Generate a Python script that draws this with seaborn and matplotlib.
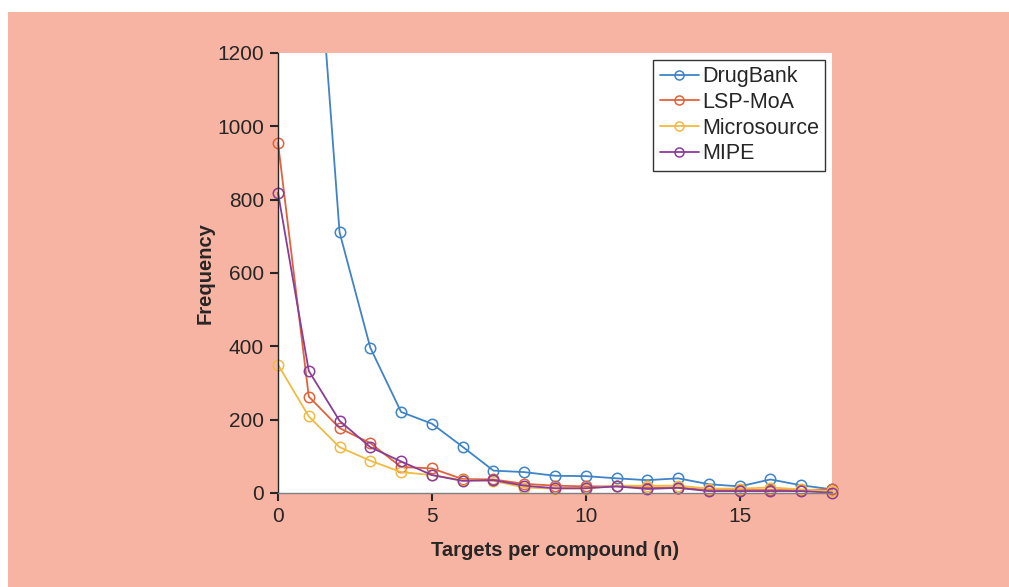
import matplotlib
matplotlib.use("Agg")
import matplotlib.pyplot as plt
import numpy as np
import pandas as pd
import seaborn as sns
from matplotlib.patches import Rectangle
from matplotlib.transforms import Bbox, TransformedBbox

# Data (targets per compound, frequency)
targets = list(range(19))
drugbank = [4000, 1840, 711, 396, 221, 189, 126, 61, 57, 47, 46, 40, 35, 40, 24, 18, 37, 21, 10]
lsp_moa = [955, 263, 177, 136, 71, 67, 38, 37, 25, 20, 18, 18, 15, 15, 8, 8, 8, 8, 10]
microsource = [350, 209, 125, 88, 57, 49, 35, 33, 15, 12, 12, 20, 20, 20, 12, 12, 15, 10, 5]
mipe = [819, 333, 197, 125, 86, 49, 33, 35, 20, 13, 13, 18, 11, 14, 5, 5, 5, 5, 1]

series_names = ["DrugBank", "LSP-MoA", "Microsource", "MIPE"]
series_colors = ["#3f83c8", "#e0623a", "#f0bb42", "#8a3d98"]

df = pd.DataFrame({
    "n": targets * 4,
    "freq": drugbank + lsp_moa + microsource + mipe,
    "library": sum([[s] * len(targets) for s in series_names], []),
})

sns.set_style("ticks")
plt.rcParams["font.family"] = ["Liberation Sans", "DejaVu Sans"]
plt.rcParams["text.color"] = "#262626"
plt.rcParams["axes.labelcolor"] = "#262626"
plt.rcParams["xtick.color"] = "#262626"
plt.rcParams["ytick.color"] = "#262626"

fig = plt.figure(figsize=(10.09, 5.87), dpi=100)
fig.patch.set_facecolor("white")
# salmon panel behind the chart (thin white margin on left/top)
fig.patches.append(Rectangle((8 / 1009, 0), 1, (587 - 12) / 587,
                             transform=fig.transFigure, facecolor="#f8b4a2",
                             edgecolor="none", zorder=-10))

ax = fig.add_axes([278 / 1009, (587 - 493) / 587, 554 / 1009, 440 / 587])
ax.set_facecolor("white")

sns.lineplot(data=df, x="n", y="freq", hue="library", hue_order=series_names,
             palette=series_colors, marker="o", markersize=7.5, mfc="none",
             mew=1.1, linewidth=1.3, ax=ax)

# let markers at the edges show, but keep the top clipped
clip = TransformedBbox(Bbox([[-0.03, -0.04], [1.03, 1.0]]), ax.transAxes)
for line in ax.lines:
    line.set_clip_box(clip)
    line.set_markeredgecolor(line.get_color())
    line.set_markerfacecolor("none")

ax.set_xlim(0, 18)
ax.set_ylim(0, 1200)
ax.set_xticks([0, 5, 10, 15])
ax.set_yticks(np.arange(0, 1201, 200))
ax.tick_params(direction="out", length=6, width=1.5, labelsize=15, pad=4)
for side in ["top", "right"]:
    ax.spines[side].set_visible(False)
ax.spines["left"].set_color("#262626")
ax.spines["bottom"].set_color("#808080")
ax.spines["left"].set_linewidth(1.0)
ax.spines["bottom"].set_linewidth(1.0)

ax.set_xlabel("Targets per compound (n)", fontsize=14.5, fontweight="bold", labelpad=11)
ax.set_ylabel("Frequency", fontsize=14.5, fontweight="bold", labelpad=2)

handles, labels = ax.get_legend_handles_labels()
leg = ax.legend(handles, labels, loc="upper right", bbox_to_anchor=(0.988, 0.985),
                fontsize=15.5, frameon=True, fancybox=False, handlelength=1.8,
                handletextpad=0.15, borderpad=0.3, labelspacing=0.22,
                borderaxespad=0.0)
leg.get_frame().set_edgecolor("black")
leg.get_frame().set_linewidth(1.0)
for h in leg.get_lines():
    h.set_markersize(6.5)
    h.set_markeredgecolor(h.get_color())
    h.set_markerfacecolor("none")

fig.savefig("out.png", dpi=100, facecolor=fig.get_facecolor())
